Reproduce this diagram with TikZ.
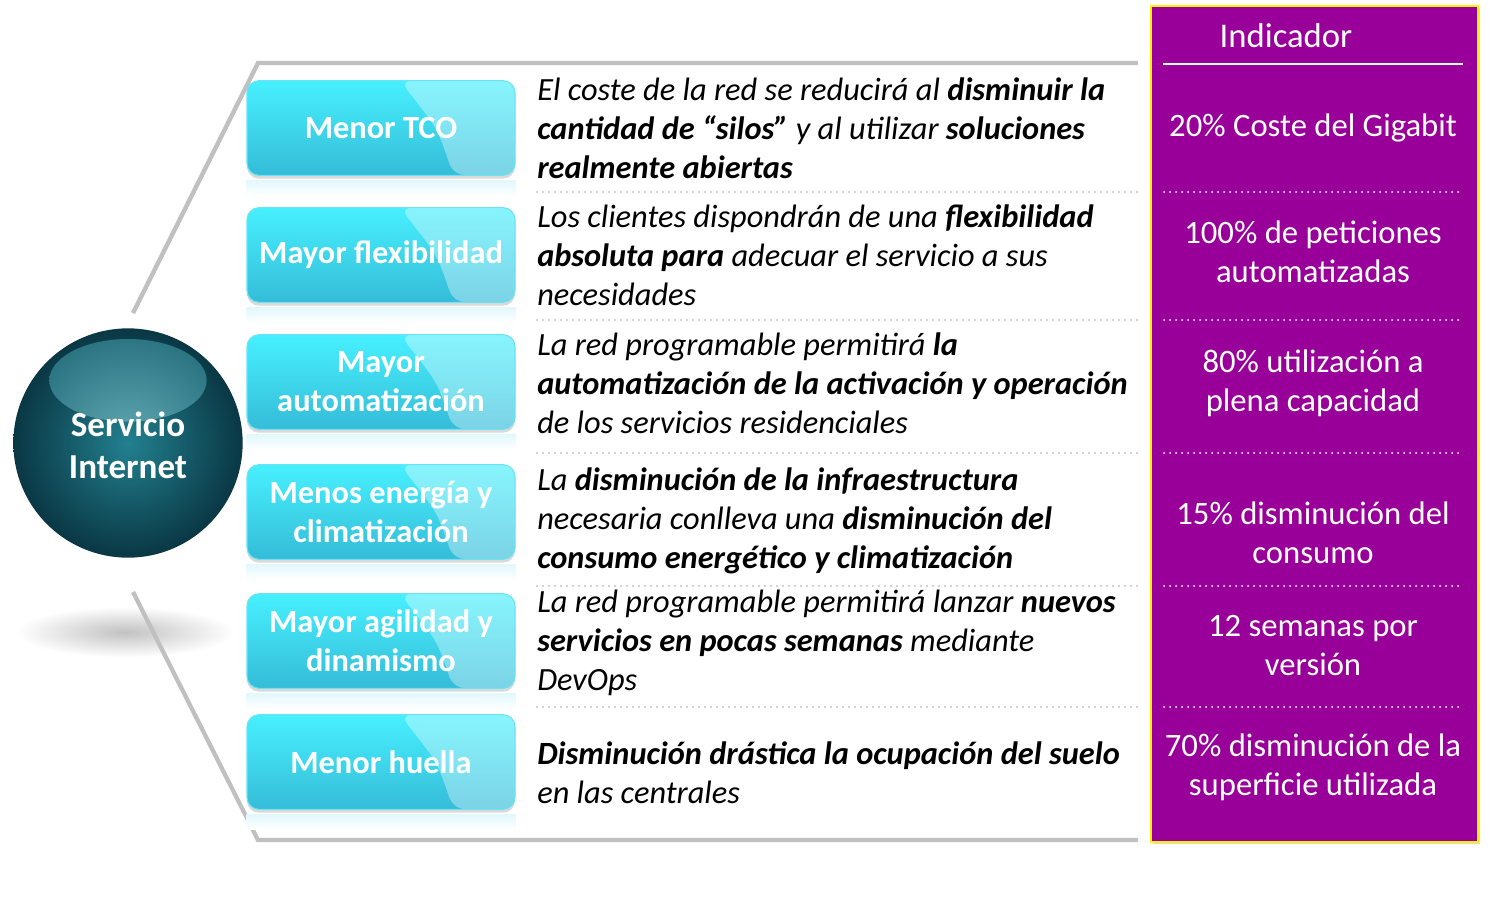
\documentclass[tikz,border=0pt]{standalone}
\usepackage{fontspec}
\setmainfont{Carlito}
\usetikzlibrary{shadows,calc}
\definecolor{cyTop}{HTML}{47F0FE}
\definecolor{cyBot}{HTML}{35BCD8}
\definecolor{cyEdge}{HTML}{6BE3F5}
\definecolor{cyRefl}{HTML}{E2F8FC}
\definecolor{ballIn}{HTML}{22808F}
\definecolor{ballOut}{HTML}{0A3744}
\definecolor{hlIn}{HTML}{62A9B2}
\definecolor{hlOut}{HTML}{27707F}
\definecolor{panelPurple}{HTML}{990099}
\definecolor{frameGray}{HTML}{C0C0C0}
\definecolor{dotGray}{HTML}{A6A6A6}
\begin{document}
\begin{tikzpicture}[x=0.75pt,y=-0.75pt,
  frame/.style={draw=frameGray, line width=3.2pt, line join=miter},
  cbox/.style={rounded corners=9pt, minimum width=201pt, minimum height=71pt,
    top color=cyTop, bottom color=cyBot, draw=cyEdge, line width=0.8pt,
    text=white, align=center, inner sep=2pt,
    font=\bfseries\fontsize{24.3}{29.25}\selectfont,
    drop shadow={shadow xshift=0pt, shadow yshift=-2.5pt, opacity=0.3},
    path picture={
      \fill[white, fill opacity=0.35]
        ($(path picture bounding box.north west)!0.57!(path picture bounding box.north east)$)
        .. controls ($(path picture bounding box.west)!0.71!(path picture bounding box.east)$)
        .. ($(path picture bounding box.south west)!0.77!(path picture bounding box.south east)$)
        -- (path picture bounding box.south east) -- (path picture bounding box.north east) -- cycle;
    }},
  refl/.style={top color=cyRefl, bottom color=white},
  desc/.style={anchor=west, align=left, inner sep=0pt, text=black,
    font=\itshape\fontsize{24.3}{29.25}\selectfont},
  ind/.style={align=center, text=white, inner sep=0pt,
    font=\fontsize{24.5}{29.25}\selectfont},
  sepgray/.style={draw=dotGray, line width=1.3pt, dash pattern=on 0pt off 4.5pt, line cap=round},
  sepwhite/.style={draw=white, line width=1.5pt, dash pattern=on 0pt off 4.5pt, line cap=round},
]
\useasboundingbox (0,0) rectangle (1498,911);

% --- circle shadow
\shade[inner color=black!24, outer color=white] (125,632) ellipse [x radius=82pt, y radius=19pt];

% --- bracket frame
\coordinate (ftA) at (133,313);
\coordinate (ftB) at (258,63);
\coordinate (ftC) at (1138,63);
\coordinate (fbA) at (133,592);
\coordinate (fbB) at (258,840);
\coordinate (fbC) at (1138,840);
\draw[frame] (ftA) -- (ftB) -- (ftC);
\draw[frame] (fbA) -- (fbB) -- (fbC);

% --- purple panel
\node[draw=yellow, line width=1.4pt, fill=panelPurple, minimum width=245pt, minimum height=627pt,
  anchor=north west, inner sep=0pt,
  drop shadow={shadow xshift=1.5pt, shadow yshift=-1.5pt, opacity=0.3}] (panel) at (1150,5) {};
\node[ind, font=\fontsize{26}{29.25}\selectfont] (indh) at (1286,36) {Indicador};
\coordinate (hl1) at (1163,64);
\coordinate (hl2) at (1463,64);
\draw[white, line width=1.6pt] (hl1) -- (hl2);

% --- separators
\foreach \yy in {192,320,453,586,707} {
  \draw[sepgray] (537,\yy) -- (1138,\yy);
  \draw[sepwhite] (1164,\yy) -- (1464,\yy);
}

% --- central circle
\node[circle, minimum size=172pt, inner sep=0pt, inner color=ballIn, outer color=ballOut,
  path picture={
    \shade[inner color=hlIn, outer color=hlOut]
      ([yshift=47pt]path picture bounding box.center) ellipse [x radius=59pt, y radius=31pt];
  }] (srv) at (128,443) {};
\node[align=center, text=white, font=\bfseries\fontsize{26.3}{31.5}\selectfont] (srvt) at (128,445) {Servicio\\Internet};

% --- cyan boxes
\node[cbox] (b1) at (381,128) {Menor TCO};
\node[cbox] (b2) at (381,255) {Mayor flexibilidad};
\node[cbox] (b3) at (381,382) {Mayor\\automatización};
\node[cbox] (b4) at (381,512) {Menos energía y\\climatización};
\node[cbox] (b5) at (381,641) {Mayor agilidad y\\dinamismo};
\node[cbox] (b6) at (381,762) {Menor huella};
\foreach \b in {b1,b2,b3,b4,b5,b6} {
  \shade[refl] ([yshift=-3.5pt]\b.south west) rectangle ([yshift=-15pt]\b.south east);
}

% --- descriptions
\node[desc] (d1) at (537,128) {El coste de la red se reducirá al \textbf{disminuir la}\\\textbf{cantidad de “silos”} y al utilizar \textbf{soluciones}\\\textbf{realmente abiertas}};
\node[desc] (d2) at (537,255) {Los clientes dispondrán de una \textbf{flexibilidad}\\\textbf{absoluta para} adecuar el servicio a sus\\necesidades};
\node[desc] (d3) at (537,383) {La red programable permitirá \textbf{la}\\\textbf{automatización de la activación y operación}\\de los servicios residenciales};
\node[desc] (d4) at (537,521) {La \textbf{disminución de la infraestructura}\\necesaria conlleva una \textbf{disminución del}\\\textbf{consumo energético y climatización}};
\node[desc] (d5) at (537,643) {La red programable permitirá lanzar \textbf{nuevos}\\\textbf{servicios en pocas semanas} mediante\\DevOps};
\node[desc] (d6) at (537,773) {\textbf{Disminución drástica la ocupación del suelo}\\en las centrales};

% --- indicators
\node[ind] (i1) at (1313,128) {20\% Coste del Gigabit};
\node[ind] (i2) at (1313,252) {100\% de peticiones\\automatizadas};
\node[ind] (i3) at (1313,383) {80\% utilización a\\plena capacidad};
\node[ind] (i4) at (1313,533) {15\% disminución del\\consumo};
\node[ind] (i5) at (1313,646) {12 semanas por\\versión};
\node[ind] (i6) at (1313,767) {70\% disminución de la\\superficie utilizada};
\end{tikzpicture}
\end{document}
